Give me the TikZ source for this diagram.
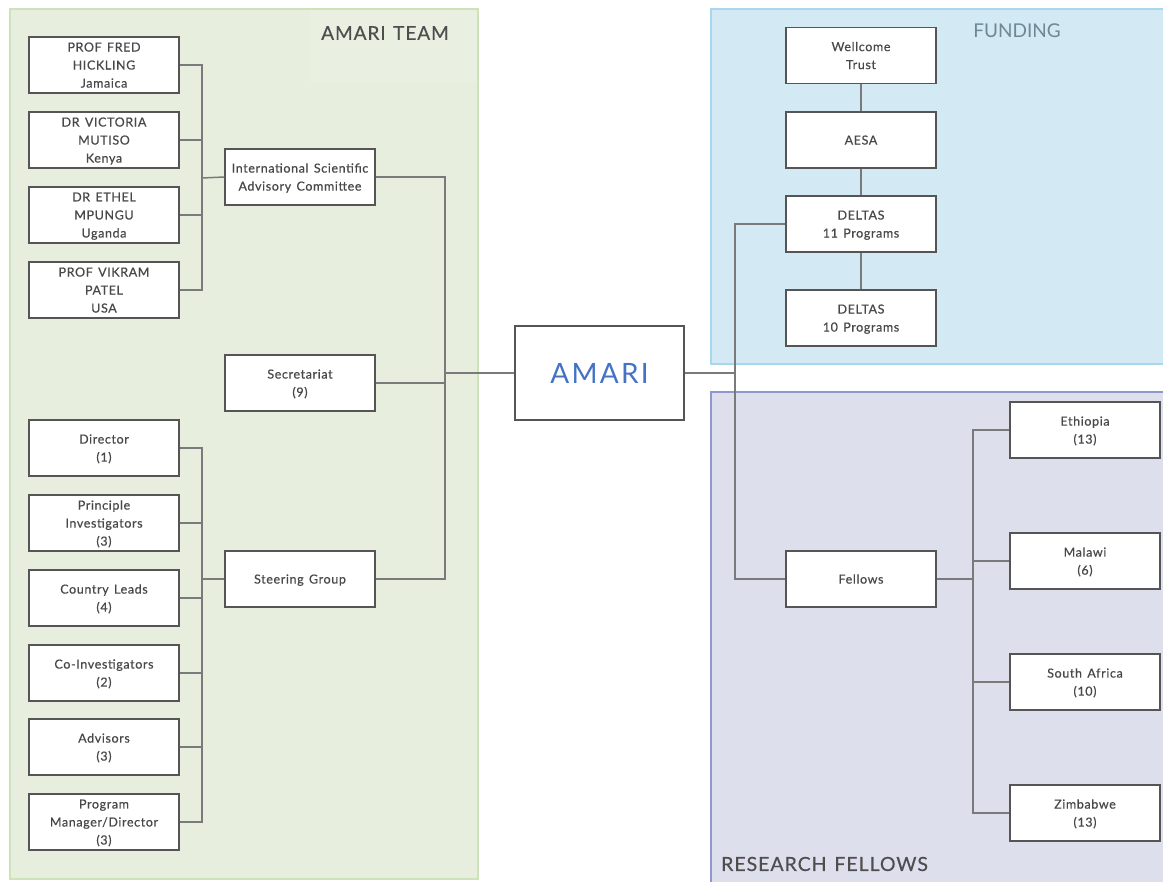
\documentclass[tikz,border=0pt]{standalone}
\usepackage{fontspec}
\setmainfont{Lato}
\newfontfamily\bxfont[LetterSpace=5, FakeBold=0.5, WordSpace=1.4]{Lato}
\newfontfamily\ttlfont[LetterSpace=5, FakeBold=0.4, WordSpace=1.3]{Lato}
\newfontfamily\fundfont{Lato}
\newfontfamily\amfont[LetterSpace=8]{Lato}
\definecolor{gfill}{HTML}{E7EEDD}
\definecolor{gfilltop}{HTML}{E9F0E1}
\definecolor{gline}{HTML}{CDE2B8}
\definecolor{bfill}{HTML}{D3E9F3}
\definecolor{bline}{HTML}{A9D8EE}
\definecolor{pfill}{HTML}{DEDFEC}
\definecolor{pline}{HTML}{8F97CF}
\definecolor{boxc}{HTML}{555555}
\definecolor{linec}{HTML}{7A7A7A}
\definecolor{txt}{HTML}{484848}
\definecolor{ttl}{HTML}{4E4E4E}
\definecolor{fttl}{HTML}{6E8896}
\definecolor{amariblue}{HTML}{4472C4}
\begin{document}
\begin{tikzpicture}[x=1pt,y=-1pt,
  box/.style={draw=boxc, line width=1.5pt, fill=white, minimum width=150pt,
    minimum height=56pt, align=center, inner sep=0pt, text=txt,
    font=\bxfont\fontsize{12.5}{18}\selectfont, text depth=-1.5pt},
  conn/.style={draw=linec, line width=1.5pt},
  title/.style={text=ttl, font=\ttlfont\fontsize{19}{22}\selectfont, inner sep=0pt}]
\useasboundingbox (0,0) rectangle (1163,882);
% regions
\fill[gfill] (10,9) rectangle (478,879);
\fill[gfilltop] (310,10) rectangle (477,82);
\draw[gline, line width=1.5pt] (10,9) rectangle (478,879);
\fill[bfill] (711,9) rectangle (1163,364);
\draw[bline, line width=1.5pt] (1163,9) -- (711,9) -- (711,364) -- (1163,364);
\fill[pfill] (711,392) rectangle (1163,882);
\draw[pline, line width=1.5pt] (1163,392) -- (711,392) -- (711,882);
\node[title] (tteam) at (385,33) {AMARI TEAM};
\node[title, text=fttl, font=\fundfont\fontsize{19}{22}\selectfont] (tfund) at (1017,31) {FUNDING};
\node[title, anchor=west, font=\ttlfont\fontsize{19.5}{22}\selectfont] (tfel) at (721,864) {RESEARCH FELLOWS};
% left column
\node[box] (fred) at (104,65) {PROF FRED\\HICKLING\\Jamaica};
\node[box] (vic) at (104,140) {DR VICTORIA\\MUTISO\\Kenya};
\node[box] (ethel) at (104,215) {DR ETHEL\\MPUNGU\\Uganda};
\node[box] (vikram) at (104,290) {PROF VIKRAM\\PATEL\\USA};
\node[box] (dir) at (104,448) {Director\\(1)};
\node[box] (pi) at (104,523) {Principle\\Investigators\\(3)};
\node[box] (cl) at (104,598) {Country Leads\\(4)};
\node[box] (coi) at (104,673) {Co-Investigators\\(2)};
\node[box] (adv) at (104,747) {Advisors\\(3)};
\node[box] (pm) at (104,822) {Program\\Manager/Director\\(3)};
% middle column
\node[box] (isac) at (300,177) {International Scientific\\Advisory Committee};
\node[box] (sec) at (300,383) {Secretariat\\(9)};
\node[box] (steer) at (300,579) {Steering Group};
% AMARI
\node[box, minimum width=169pt, minimum height=94pt, text=amariblue,
  font=\amfont\fontsize{28}{30}\selectfont, text depth=0pt] (amari) at (599.5,373) {AMARI};
% funding
\node[box] (well) at (861,55.5) {Wellcome\\Trust};
\node[box] (aesa) at (861,140) {AESA};
\node[box] (d11) at (861,224) {DELTAS\\11 Programs};
\node[box] (d10) at (861,318) {DELTAS\\10 Programs};
\node[box] (fel) at (861,579) {Fellows};
\node[box] (eth) at (1085,430) {Ethiopia\\(13)};
\node[box] (mal) at (1085,561) {Malawi\\(6)};
\node[box] (sa) at (1085,682) {South Africa\\(10)};
\node[box] (zim) at (1085,813) {Zimbabwe\\(13)};
% connectors left top
\coordinate (lb1) at (202,178);
\foreach \n in {fred,vic,ethel,vikram} \draw[conn] (\n.east) -| (lb1);
\draw[conn] (lb1) -- (isac.west);
\coordinate (lb2) at (202,579);
\foreach \n in {dir,pi,cl,coi,adv,pm} \draw[conn] (\n.east) -| (lb2);
\draw[conn] (lb2) -- (steer.west);
% to AMARI
\coordinate (rb) at (445,373);
\draw[conn] (isac.east) -| (rb);
\draw[conn] (steer.east) -| (rb);
\draw[conn] (sec.east) -| (rb);
\draw[conn] (rb) -- (amari.west);
% right side
\coordinate (rb2) at (735,373);
\draw[conn] (amari.east) -- (rb2);
\draw[conn] (rb2) |- (d11.west);
\draw[conn] (rb2) |- (fel.west);
\draw[conn] (well.south) -- (aesa.north);
\draw[conn] (aesa.south) -- (d11.north);
\draw[conn] (d11.south) -- (d10.north);
\coordinate (fb) at (973,579);
\draw[conn] (fel.east) -- (fb);
\foreach \n in {eth,mal,sa,zim} \draw[conn] (fb) |- (\n.west);
\end{tikzpicture}
\end{document}
